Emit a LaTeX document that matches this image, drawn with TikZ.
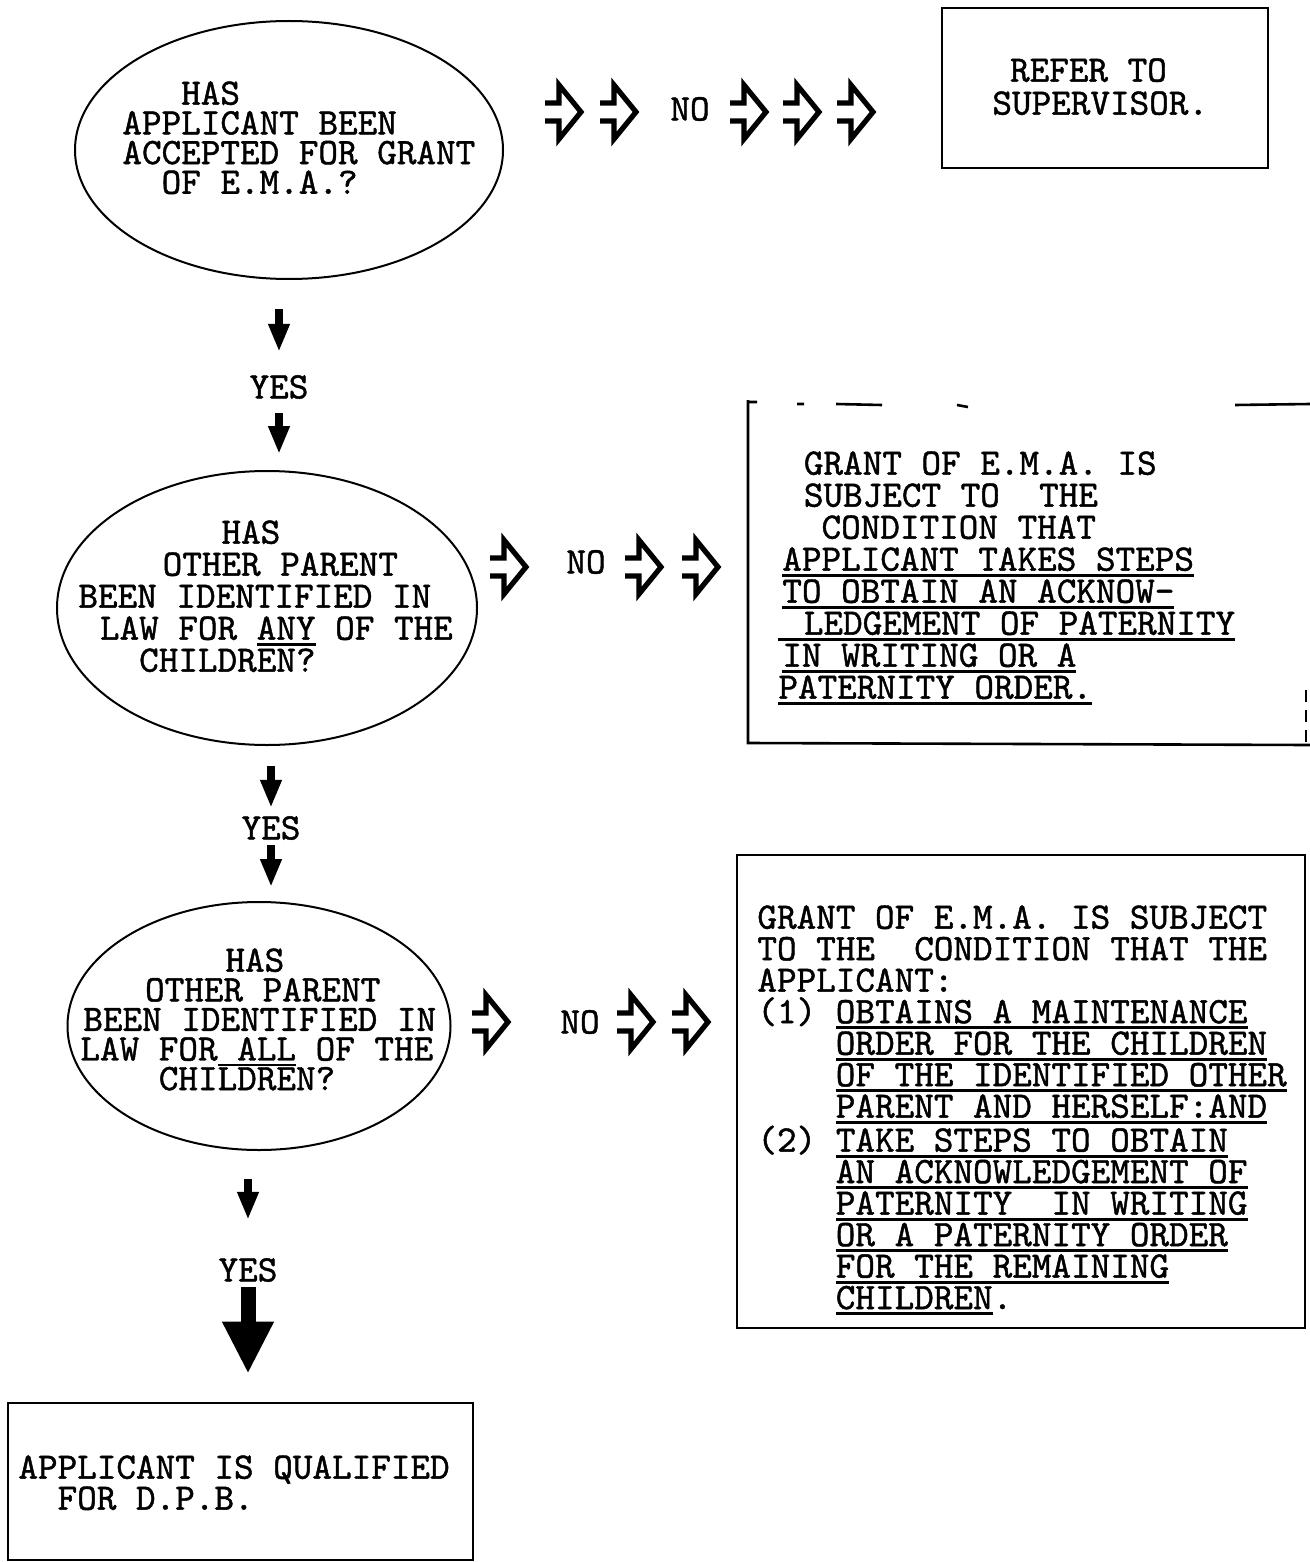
\documentclass[tikz,border=0pt]{standalone}
\usepackage{fontspec}
\newfontfamily\typer[Extension=.otf,FakeBold=1.2]{lmmono10-regular}
\usetikzlibrary{arrows.meta,shapes.geometric}

\newsavebox\ulbox
\newcommand\ul[1]{\sbox\ulbox{#1}\rlap{\rule[-0.16em]{\wd\ulbox}{0.075em}}\usebox\ulbox}
\newcommand\ind[1]{\hspace*{#1\dimexpr0.525em\relax}}

\tikzset{
  hollowarr/.pic={\draw[line width=2.6pt,miter limit=4] (0,-9)--(14,-9)--(14,-27)--(36,0)--(14,27)--(14,9)--(0,9);},
}

\begin{document}
\begin{tikzpicture}[x=0.5pt,y=-0.5pt,
  tw/.style={font=\typer\fontsize{18.67}{#1}\selectfont\frenchspacing,inner sep=0pt,align=left,anchor=north west},
  tw/.default=15.75,
  word/.style={font=\typer\fontsize{18.67}{16}\selectfont,inner sep=0pt},
  ask/.style={draw,ellipse,line width=1pt,inner sep=0pt},
  panel/.style={draw,line width=1.3pt,inner sep=0pt},
  yesdown/.style={line width=4pt,-{Triangle[length=14pt,width=10pt]}},
  bigdown/.style={line width=7.5pt,-{Triangle[length=26pt,width=24pt]}}]
\useasboundingbox (0,0) rectangle (1310,1562);

% questions
\node[ask,minimum width=214pt,minimum height=129pt] (q1) at (289,150) {};
\node[ask,minimum width=210pt,minimum height=137pt] (q2) at (267,608) {};
\node[ask,minimum width=191.5pt,minimum height=124pt] (q3) at (259,1026) {};
\node[tw=14.85] (t1) at (122,81) {\ind{3}HAS\\APPLICANT BEEN\\ACCEPTED FOR GRANT\\\ind{2}OF E.M.A.?};
\node[tw=16] (t2) at (78,520) {\ind{7.3}HAS\\\ind{4.3}OTHER PARENT\\BEEN IDENTIFIED IN\\\ind{1.1}LAW FOR \ul{ANY} OF THE\\\ind{3.1}CHILDREN?};
\node[tw=14.8] (t3) at (80,948) {\ind{7.4}HAS\\\ind{3.3}OTHER PARENT\\\ind{0.15}BEEN IDENTIFIED IN\\LAW FOR\ul{ ALL} OF THE\\\ind{4}CHILDREN?};

% answers
\node[panel,minimum width=163pt,minimum height=80pt] (refer) at (1105,88) {};
\node[tw=16.5] (t0) at (992,58) {\ind{0.9}REFER TO\\SUPERVISOR.};

\draw[line width=1.3pt] (748,400) -- (748,743) -- (1310,745);
\draw[line width=1.3pt] (748,402)--(757,402) (797,404)--(804,404) (836,404)--(882,405)
  (957,405)--(968,407) (1235,405)--(1310,404);
\draw[line width=1pt,dash pattern=on 6pt off 4pt] (1306,690)--(1306,745);
\node[tw=16] (t4) at (778,451) {\ind{1.3}GRANT OF E.M.A. IS\\\ind{1.3}SUBJECT TO~ THE\\\ind{2.2}CONDITION THAT\\
  \ind{0.2}\ul{APPLICANT TAKES STEPS}\\\ind{0.2}\ul{TO OBTAIN AN ACKNOW-}\\\ul{\ind{1.3}LEDGEMENT OF PATERNITY}\\
  \ind{0.2}\ul{IN WRITING OR A}\\\ul{PATERNITY ORDER.}};

\node[panel,minimum width=284pt,minimum height=236.5pt] (cond) at (1021,1091.5) {};
\node[tw] (t5) at (757,905) {GRANT OF E.M.A. IS SUBJECT\\TO THE~ CONDITION THAT THE\\APPLICANT:\\
  (1) \ul{OBTAINS A MAINTENANCE}\\\ind{4}\ul{ORDER FOR THE CHILDREN}\\\ind{4}\ul{OF THE IDENTIFIED OTHER}\\
  \ind{4}\ul{PARENT AND HERSELF:AND}\\(2) \ul{TAKE STEPS TO OBTAIN}\\\ind{4}\ul{AN ACKNOWLEDGEMENT OF}\\
  \ind{4}\ul{PATERNITY~ IN WRITING}\\\ind{4}\ul{OR A PATERNITY ORDER}\\\ind{4}\ul{FOR THE REMAINING}\\
  \ind{4}\ul{CHILDREN}.};

\node[panel,minimum width=232.5pt,minimum height=78.5pt] (qual) at (240.5,1481.5) {};
\node[tw=15.5] (t6) at (18,1455) {APPLICANT IS QUALIFIED\\\ind{2}FOR D.P.B.};

% yes / no
\node[word] (y1) at (279,387) {YES};
\node[word] (y2) at (271,828) {YES};
\node[word] (y3) at (248,1270) {YES};
\node[word] (n1) at (690,109) {NO};
\node[word] (n2) at (586,562) {NO};
\node[word] (n3) at (580,1022) {NO};

\draw[yesdown,shorten <=14.5pt,shorten >=11.5pt] (y1.north |- q1.south) -- (y1.north);
\draw[yesdown,shorten <=7pt,shorten >=8pt] (y1.south) -- (y1.south |- q2.north);
\draw[yesdown,shorten <=10pt,shorten >=4pt] (y2.north |- q2.south) -- (y2.north);
\draw[yesdown,shorten <=2.5pt,shorten >=7pt] (y2.south) -- (y2.south |- q3.north);
\draw[yesdown,shorten <=14pt,shorten >=19pt] (y3.north |- q3.south) -- (y3.north);
\draw[bigdown,shorten <=2.5pt,shorten >=14pt] (y3.south) -- (y3.south |- qual.north);

\foreach \x/\y in {545/112,600/112,730/112,783/112,837/112,490/567,625/567,682/567,472/1022,617/1022,672/1022}
  \pic at (\x,\y) {hollowarr};
\end{tikzpicture}
\end{document}
